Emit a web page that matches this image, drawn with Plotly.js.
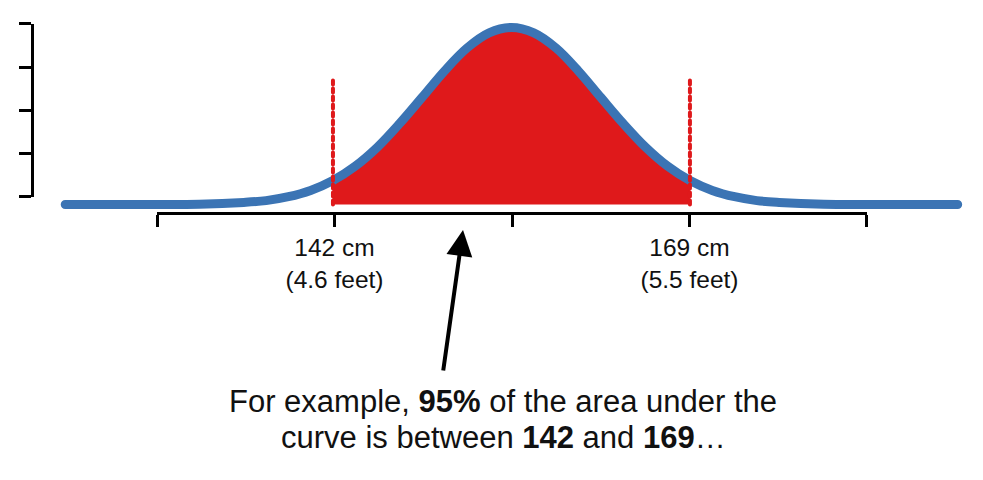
<!DOCTYPE html>
<html>
<head>
<meta charset="utf-8">
<script src="https://cdn.plot.ly/plotly-3.0.1.min.js"></script>
<style>
  html, body { margin: 0; padding: 0; background: #fff; }
  #chart { width: 983px; height: 480px; }
  .scatterlayer path.js-line { stroke-linecap: round; stroke-linejoin: round; }
</style>
</head>
<body>
<div id="chart"></div>
<script>
// Heights (cm) along the curve and the curve's height (density)
const heightsCm = [121.75, 125, 128.5, 131.88, 135.25, 136.94, 138.63, 140.31, 142, 143.69, 145.38, 147.06, 148.75, 150.44, 152.13, 153.81, 155.5, 157.19, 158.88, 160.56, 162.25, 163.94, 165.63, 167.31, 169, 170.69, 172.38, 174.06, 175.75, 179.13, 182.5, 186, 189.25];
const density   = [0, 0, 0.00002, 0.0001, 0.0007, 0.0013, 0.0026, 0.0047, 0.0080, 0.0128, 0.0192, 0.0271, 0.0358, 0.0446, 0.0522, 0.0573, 0.0591, 0.0573, 0.0522, 0.0446, 0.0358, 0.0271, 0.0192, 0.0128, 0.0080, 0.0047, 0.0026, 0.0013, 0.0007, 0.0001, 0.00002, 0, 0];
// Shaded interval (95%)
const bounds = [142, 169];
const boundLineTop = 0.0426;
// X axis ticks
const tickValues = [128.5, 142, 155.5, 169, 182.5];
const tickLabels = ['', '142 cm<br>(4.6 feet)', '', '169 cm<br>(5.5 feet)', ''];
// Y axis ticks (unlabelled)
const yTickValues = [0, 1, 2, 3, 4];
const captionLines = ['For example, <b>95%</b> of the area under the', 'curve is between <b>142</b> and <b>169</b>…'];

const BLUE = '#3b74b4';
const RED = '#df191b';
const FONT = 'Liberation Sans, Arial, Helvetica, sans-serif';

const fillX = [], fillY = [];
heightsCm.forEach((h, i) => { if (h >= bounds[0] && h <= bounds[1]) { fillX.push(h); fillY.push(density[i]); } });

const traces = [
  { x: fillX, y: fillY, type: 'scatter', mode: 'lines', fill: 'tozeroy', fillcolor: RED,
    line: { width: 0, color: RED, shape: 'spline' }, hoverinfo: 'skip', showlegend: false },
  { x: heightsCm, y: density, type: 'scatter', mode: 'lines',
    line: { width: 9, color: BLUE, shape: 'spline' }, hoverinfo: 'skip', showlegend: false },
  { x: [bounds[0], bounds[0]], y: [0, boundLineTop], type: 'scatter', mode: 'lines',
    line: { width: 4, color: RED, dash: '4px,4px' }, hoverinfo: 'skip', showlegend: false },
  { x: [bounds[1], bounds[1]], y: [0, boundLineTop], type: 'scatter', mode: 'lines',
    line: { width: 4, color: RED, dash: '4px,4px' }, hoverinfo: 'skip', showlegend: false },
  { x: [tickValues[2]], y: [yTickValues[0]], xaxis: 'x2', yaxis: 'y2', type: 'scatter', mode: 'markers',
    marker: { opacity: 0 }, hoverinfo: 'skip', showlegend: false }
];

const captionY = [0.1500, 0.0696];

const layout = {
  width: 983, height: 480,
  margin: { l: 20, r: 8, t: 10, b: 10 },
  paper_bgcolor: '#fff', plot_bgcolor: 'rgba(0,0,0,0)',
  showlegend: false,
  font: { family: FONT, color: '#000' },
  xaxis: { range: [118.33, 190.56], visible: false, fixedrange: true },
  yaxis: { range: [-0.08865, 0.06494], visible: false, fixedrange: true },
  xaxis2: {
    domain: [0.14346, 0.88691], range: [128.5, 182.5], anchor: 'free', position: 0.5587,
    showline: true, linewidth: 3, linecolor: '#000', ticks: 'outside', ticklen: 12, tickwidth: 3, tickcolor: '#000',
    tickmode: 'array', tickvals: tickValues, ticktext: tickLabels,
    tickfont: { family: FONT, size: 24.5, color: '#111' },
    showgrid: false, zeroline: false, fixedrange: true
  },
  yaxis2: {
    domain: [0.5935, 0.9696], range: [0, 4], anchor: 'free', position: 0.01257,
    showline: true, linewidth: 3, linecolor: '#000', ticks: 'outside', ticklen: 12, tickwidth: 3, tickcolor: '#000',
    tickmode: 'array', tickvals: yTickValues, showticklabels: false,
    showgrid: false, zeroline: false, fixedrange: true
  },
  annotations: [
    { xref: 'paper', yref: 'paper', x: 0.4639, y: 0.5217, text: '', showarrow: true,
      axref: 'pixel', ayref: 'pixel', ax: -20, ay: 142, arrowhead: 2, arrowsize: 1.3, arrowwidth: 4,
      arrowcolor: '#000', standoff: 0 }
  ].concat(captionLines.map((t, i) => ({
      xref: 'paper', yref: 'paper', x: 0.5058, y: captionY[i], xanchor: 'center', yanchor: 'middle',
      text: t, showarrow: false, align: 'center',
      font: { family: FONT, size: 31, color: '#111' } })))
};

Plotly.newPlot('chart', traces, layout, { staticPlot: true, displayModeBar: false });
</script>
</body>
</html>
